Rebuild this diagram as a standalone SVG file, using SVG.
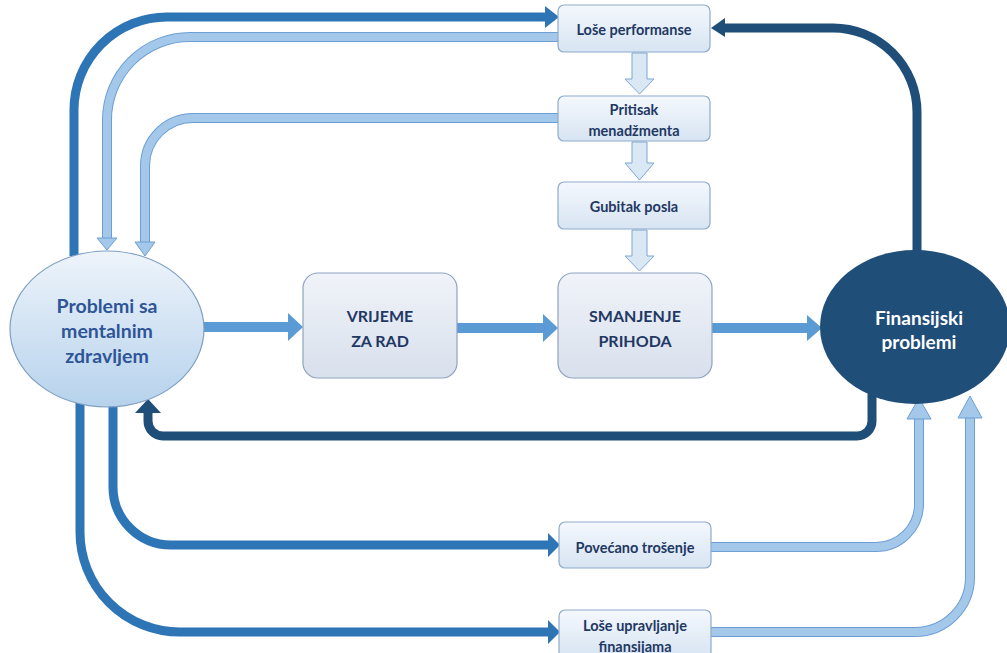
<svg xmlns="http://www.w3.org/2000/svg" width="1007" height="653" viewBox="0 0 1007 653">
<style>
.t{font-family:Lato,"Liberation Sans",sans-serif;font-weight:bold;text-anchor:middle;dominant-baseline:central}
.sm{font-size:14.5px;fill:#1f3864}
.bx{fill:url(#gb);stroke:#8faacc;stroke-width:1.2}
.bb{fill:url(#gB);stroke:#8ea3c0;stroke-width:1.2}
.mid{fill:none;stroke:#2e75b6;stroke-width:9}
.navy{fill:none;stroke:#1f4e79;stroke-width:9}
.hz{fill:none;stroke:#5b9bd5;stroke-width:10}
.lo{fill:none;stroke:#6d9ed3;stroke-width:10}
.li{fill:none;stroke:#a4c8ea;stroke-width:8}
.lh{fill:#a4c8ea;stroke:#6d9ed3;stroke-width:1}
.dn{fill:#dae8f5;stroke:#7fa6cf;stroke-width:1}
</style>
<defs>
<linearGradient id="gb" x1="0" y1="0" x2="0" y2="1"><stop offset="0" stop-color="#f4f8fd"/><stop offset="1" stop-color="#d7e4f2"/></linearGradient>
<linearGradient id="gB" x1="0" y1="0" x2="0" y2="1"><stop offset="0" stop-color="#f0f3f9"/><stop offset="1" stop-color="#d8e0ec"/></linearGradient>
<linearGradient id="ge" x1="0" y1="0" x2="0" y2="1"><stop offset="0" stop-color="#eef4fb"/><stop offset="1" stop-color="#b6d2ec"/></linearGradient>
</defs>
<rect width="1007" height="653" fill="#ffffff"/>
<g id="connectors">
  <path class="mid" d="M74,256 V110 A93,93 0 0 1 167,17 H547"/>
  <polygon fill="#2e75b6" points="545,6 559,17 545,28"/>
  <path class="lo" d="M558,37 H190 A83,83 0 0 0 107,120 V239"/>
  <path class="li" d="M558,37 H190 A83,83 0 0 0 107,120 V239"/>
  <polygon class="lh" points="97,238 117,238 107,250"/>
  <path class="lo" d="M558,118 H193 A48,48 0 0 0 145,166 V243"/>
  <path class="li" d="M558,118 H193 A48,48 0 0 0 145,166 V243"/>
  <polygon class="lh" points="135,242 155,242 145,256"/>
  <path class="navy" d="M917,252 V112 A84,84 0 0 0 833,28 H723"/>
  <polygon fill="#1f4e79" points="725,18 711,28 725,37"/>
  <path class="hz" d="M200,327 H290"/>
  <polygon fill="#5b9bd5" points="288,313 303,327 288,341"/>
  <path class="hz" d="M455,328 H545"/>
  <polygon fill="#5b9bd5" points="543,314 558,328 543,342"/>
  <path class="hz" d="M710,328 H809"/>
  <polygon fill="#5b9bd5" points="807,315 822,328 807,341"/>
  <path class="navy" d="M872,394 V421 A15,15 0 0 1 857,436 H163 A15,15 0 0 1 148,421 V411"/>
  <polygon fill="#1f4e79" points="135,413 148,399 161,413"/>
  <path class="mid" d="M113,404 V487 A58,58 0 0 0 171,545 H550"/>
  <polygon fill="#2e75b6" points="548,533 560,545 548,557"/>
  <path class="mid" d="M80,402 V532 A100,100 0 0 0 180,632 H550"/>
  <polygon fill="#2e75b6" points="548,620 560,632 548,644"/>
  <path class="lo" d="M711,547 H876 A43,43 0 0 0 919,504 V418"/>
  <path class="li" d="M711,547 H876 A43,43 0 0 0 919,504 V418"/>
  <polygon class="lh" points="907,419 919,398 931,419"/>
  <path class="lo" d="M711,632 H915 A55,55 0 0 0 970,577 V418"/>
  <path class="li" d="M711,632 H915 A55,55 0 0 0 970,577 V418"/>
  <polygon class="lh" points="958,418 970,396 982,418"/>
  <polygon class="dn" points="632,53 647,53 647,79 654,79 639.5,94 625,79 632,79"/>
  <polygon class="dn" points="632,142 647,142 647,163 654,163 639.5,180 625,163 632,163"/>
  <polygon class="dn" points="632,230 647,230 647,256 654,256 639.5,271 625,256 632,256"/>
</g>
<g id="n-mental">
  <ellipse cx="107" cy="329" rx="97" ry="78" fill="url(#ge)" stroke="#7f9fc3" stroke-width="1.2"/>
  <text class="t" x="107" y="305" font-size="19.5" fill="#2f5597">Problemi sa</text>
  <text class="t" x="107" y="330" font-size="19.5" fill="#2f5597">mentalnim</text>
  <text class="t" x="107" y="355" font-size="19.5" fill="#2f5597">zdravljem</text>
</g>
<g id="n-fin">
  <ellipse cx="915" cy="327" rx="95" ry="77" fill="#1f4e79"/>
  <text class="t" x="919" y="317" font-size="19" fill="#ffffff">Finansijski</text>
  <text class="t" x="919" y="341" font-size="19" fill="#ffffff">problemi</text>
</g>
<g id="n-vrijeme">
  <rect class="bb" x="303" y="273" width="154" height="105" rx="15"/>
  <text class="t" x="380" y="315" font-size="16" fill="#1f3864">VRIJEME</text>
  <text class="t" x="380" y="340" font-size="16" fill="#1f3864">ZA RAD</text>
</g>
<g id="n-smanjenje">
  <rect class="bb" x="558" y="273" width="154" height="105" rx="15"/>
  <text class="t" x="635" y="315" font-size="16" fill="#1f3864">SMANJENJE</text>
  <text class="t" x="635" y="340" font-size="16" fill="#1f3864">PRIHODA</text>
</g>
<g id="n-lose-perf">
  <rect class="bx" x="558" y="5" width="152" height="47" rx="6"/>
  <text class="t sm" x="634" y="29">Loše performanse</text>
</g>
<g id="n-pritisak">
  <rect class="bx" x="558" y="96" width="152" height="45" rx="6"/>
  <text class="t sm" x="634" y="109">Pritisak</text>
  <text class="t sm" x="634" y="130">menadžmenta</text>
</g>
<g id="n-gubitak">
  <rect class="bx" x="558" y="182" width="152" height="47" rx="6"/>
  <text class="t sm" x="634" y="206">Gubitak posla</text>
</g>
<g id="n-povecano">
  <rect class="bx" x="559" y="522" width="152" height="46" rx="6"/>
  <text class="t sm" x="635" y="547">Povećano trošenje</text>
</g>
<g id="n-upravljanje">
  <rect class="bx" x="559" y="610" width="152" height="48" rx="6"/>
  <text class="t sm" x="635" y="625">Loše upravljanje</text>
  <text class="t sm" x="635" y="646">finansijama</text>
</g>
</svg>
